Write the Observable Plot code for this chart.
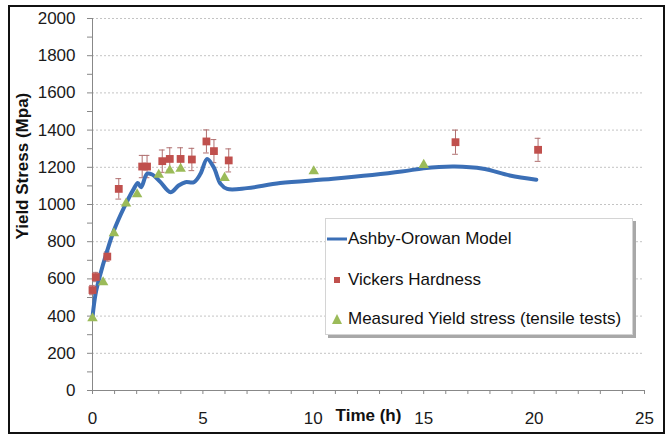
<!DOCTYPE html>
<html>
<head>
<meta charset="utf-8">
<script src="https://cdn.jsdelivr.net/npm/d3@7"></script>
<script src="https://cdn.jsdelivr.net/npm/@observablehq/plot@0.6"></script>
<style>
  html, body { margin: 0; padding: 0; background: #fff; }
  #wrap { position: relative; width: 671px; height: 435px; font-family: "Liberation Sans", Arial, sans-serif; }
  #border { position: absolute; left: 8px; top: 5px; width: 653px; height: 425px; border: 2px solid #111; pointer-events: none; }
  #legend { position: absolute; left: 325px; top: 218px; width: 306px; height: 115px; background: #fff;
            border: 1px solid #d4d4d4; box-shadow: 3px 3px 0 #a8a8a8; }
  .row { position: absolute; left: 0; height: 20px; display: flex; align-items: center; font-size: 17px; color: #111; white-space: nowrap; }
  .row svg { flex: none; }
</style>
</head>
<body>
<div id="wrap"></div>
<script>
// Ashby-Orowan model curve
const modelX = [0, 0.14, 0.36, 0.67, 0.97, 1.42, 1.87, 2.05, 2.2, 2.47, 2.7, 3.08, 3.53, 3.9, 4.21, 4.59, 4.89, 5.19, 5.49, 5.8, 6.1, 7.0, 8.5, 10.9, 14.0, 15.0, 16.4, 17.7, 18.9, 20.1];
const modelY = [394, 520, 627, 753, 860, 982, 1084, 1116, 1093, 1165, 1161, 1120, 1066, 1102, 1120, 1120, 1165, 1245, 1200, 1111, 1084, 1088, 1115, 1138, 1177, 1195, 1204, 1192, 1156, 1133];
// Vickers hardness (with error bars)
const hvX = [0, 0.15, 0.67, 1.19, 2.25, 2.47, 3.16, 3.5, 3.99, 4.5, 5.16, 5.5, 6.17, 16.44, 20.18];
const hvY = [540, 610, 720, 1084, 1204, 1204, 1233, 1245, 1245, 1242, 1339, 1287, 1237, 1335, 1294];
const hvErr = [25, 25, 25, 55, 60, 60, 60, 60, 60, 60, 62, 62, 62, 65, 62];
// Measured yield stress (tensile tests)
const ysX = [0, 0.48, 0.97, 1.52, 2.02, 3.0, 3.5, 3.99, 5.98, 10.02, 15.0];
const ysY = [388, 582, 845, 1005, 1055, 1160, 1183, 1192, 1143, 1179, 1213];
// Axis ticks
const yTicks = [0, 200, 400, 600, 800, 1000, 1200, 1400, 1600, 1800, 2000];
const yMinor = [100, 300, 500, 700, 900, 1100, 1300, 1500, 1700, 1900];
const xTicks = [0, 5, 10, 15, 20, 25];
const xMinor = d3.range(0, 26, 1);
const legendLabels = ["Ashby-Orowan Model", "Vickers Hardness", "Measured Yield stress (tensile tests)"];
const colors = {model: "#3b6fb6", hv: "#c0504d", ys: "#9bbb59"};

const model = modelX.map((x, i) => ({x, y: modelY[i]}));
const hv = hvX.map((x, i) => ({x, y: hvY[i], e: hvErr[i]}));
const ys = ysX.map((x, i) => ({x, y: ysY[i]}));

const chart = Plot.plot({
  width: 671,
  height: 435,
  marginLeft: 92,
  marginRight: 27,
  marginTop: 18,
  marginBottom: 45,
  style: {fontFamily: "'Liberation Sans', Arial, sans-serif", fontSize: "17px", background: "transparent", color: "#1a1a1a"},
  x: {domain: [0, 25]},
  y: {domain: [0, 2000]},
  marks: [
    Plot.ruleY(yTicks.filter(d => d > 0), {stroke: "#c4c4c4", strokeWidth: 1, strokeDasharray: "2,2"}),
    Plot.axisY({ticks: yTicks, tickSize: 5, tickPadding: 12, stroke: "#888", fill: "#1a1a1a", tickFormat: d => String(d), label: null}),
    Plot.axisY({ticks: yMinor, tickSize: 5, tickFormat: () => "", stroke: "#888", label: null}),
    Plot.axisX({ticks: xMinor, tickSize: 4, tickPadding: 17, stroke: "#888", fill: "#1a1a1a",
                tickFormat: d => (xTicks.includes(d) ? String(d) : ""), label: null}),
    Plot.ruleX([0], {stroke: "#888"}),
    Plot.ruleY([0], {stroke: "#888"}),
    // error bars
    Plot.ruleX(hv, {x: "x", y1: d => d.y - d.e, y2: d => d.y + d.e, stroke: "#b07070", strokeWidth: 1}),
    Plot.ruleY(hv, {y: d => d.y + d.e, x1: d => d.x - 0.13, x2: d => d.x + 0.13, stroke: "#b07070", strokeWidth: 1}),
    Plot.ruleY(hv, {y: d => d.y - d.e, x1: d => d.x - 0.13, x2: d => d.x + 0.13, stroke: "#b07070", strokeWidth: 1}),
    Plot.line(model, {x: "x", y: "y", stroke: colors.model, strokeWidth: 4, curve: "catmull-rom"}),
    Plot.dot(hv, {x: "x", y: "y", symbol: "square", r: 4.4, fill: colors.hv, stroke: "none"}),
    Plot.dot(ys, {x: "x", y: "y", symbol: "triangle", r: 3.9, fill: colors.ys, stroke: "none"}),
    Plot.text(["Yield Stress (Mpa)"], {frameAnchor: "left", dx: -70, dy: 35, rotate: -90, fontWeight: "bold", fontSize: 17, fill: "#111"}),
    Plot.text(["Time (h)"], {frameAnchor: "bottom", dy: 30, fontWeight: "bold", fontSize: 17, fill: "#111"})
  ]
});

const wrap = document.getElementById("wrap");
wrap.appendChild(chart);
const border = document.createElement("div");
border.id = "border";
wrap.appendChild(border);

// legend
const legend = document.createElement("div");
legend.id = "legend";
const swatches = [
  `<svg width="22" height="10"><line x1="1" y1="5" x2="21" y2="5" stroke="${colors.model}" stroke-width="3"/></svg>`,
  `<svg width="22" height="10"><rect x="8" y="2" width="6" height="6" fill="${colors.hv}"/></svg>`,
  `<svg width="22" height="12"><path d="M11,1 L16,11 L6,11 Z" fill="${colors.ys}"/></svg>`
];
const rowTops = [10, 51, 90];
legendLabels.forEach((lab, i) => {
  const r = document.createElement("div");
  r.className = "row";
  r.style.top = rowTops[i] + "px";
  r.innerHTML = swatches[i] + `<span>${lab}</span>`;
  legend.appendChild(r);
});
wrap.appendChild(legend);
</script>
</body>
</html>
